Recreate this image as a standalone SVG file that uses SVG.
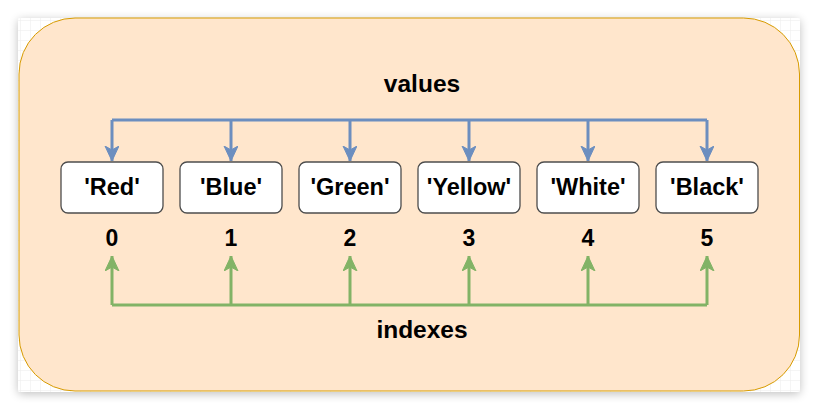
<svg xmlns="http://www.w3.org/2000/svg" width="818" height="410" viewBox="0 0 818 410">
  <defs>
    <pattern id="grid" width="10" height="10" patternUnits="userSpaceOnUse" x="0" y="0">
      <path d="M10 0 L0 0 0 10" fill="none" stroke="#ececec" stroke-width="1"/>
    </pattern>
    <filter id="shadow" x="-5%" y="-5%" width="110%" height="115%">
      <feGaussianBlur in="SourceAlpha" stdDeviation="5"/>
      <feOffset dx="0" dy="2" result="b"/>
      <feComponentTransfer><feFuncA type="linear" slope="0.25"/></feComponentTransfer>
      <feMerge><feMergeNode/><feMergeNode in="SourceGraphic"/></feMerge>
    </filter>
    <marker id="arrBlue" markerUnits="userSpaceOnUse" markerWidth="16" markerHeight="16" viewBox="0 0 16 16" refX="15" refY="7" orient="auto">
      <path d="M0 0 L15 7 L0 14 L4 7 Z" fill="#6c8ebf" stroke="#6c8ebf" stroke-width="1"/>
    </marker>
    <marker id="arrGreen" markerUnits="userSpaceOnUse" markerWidth="16" markerHeight="16" viewBox="0 0 16 16" refX="15" refY="7" orient="auto">
      <path d="M0 0 L15 7 L0 14 L4 7 Z" fill="#82b366" stroke="#82b366" stroke-width="1"/>
    </marker>
  </defs>
  <style>
    .box { fill: #ffffff; stroke: #4d4d4d; stroke-width: 1.3; }
    .t { font-family: "Liberation Sans", Arial, Helvetica, sans-serif; font-weight: bold; fill: #000; text-anchor: middle; }
    .bt { font-size: 23.5px; }
    .num { font-size: 23px; }
    .lbl { font-size: 24.5px; }
    .blue { fill: none; stroke: #6c8ebf; stroke-width: 3; }
    .green { fill: none; stroke: #82b366; stroke-width: 3; }
  </style>
  <rect width="818" height="410" fill="#ffffff"/>
  <g id="page">
    <rect x="18" y="18" width="782" height="374" rx="3" fill="#ffffff" filter="url(#shadow)"/>
    <rect x="18" y="18" width="782" height="374" rx="3" fill="url(#grid)"/>
  </g>
  <g id="container">
    <rect x="19" y="18" width="780.5" height="373" rx="56" fill="#ffe6cc" stroke="#d79b00" stroke-width="1"/>
  </g>
  <g id="connectors">
    <path class="blue" d="M112 120 H707"/>
    <path class="blue" d="M112 120 V161" marker-end="url(#arrBlue)"/>
    <path class="blue" d="M231 120 V161" marker-end="url(#arrBlue)"/>
    <path class="blue" d="M350 120 V161" marker-end="url(#arrBlue)"/>
    <path class="blue" d="M469 120 V161" marker-end="url(#arrBlue)"/>
    <path class="blue" d="M588 120 V161" marker-end="url(#arrBlue)"/>
    <path class="blue" d="M707 120 V161" marker-end="url(#arrBlue)"/>
    <path class="green" d="M112 305 H707"/>
    <path class="green" d="M112 305 V256" marker-end="url(#arrGreen)"/>
    <path class="green" d="M231 305 V256" marker-end="url(#arrGreen)"/>
    <path class="green" d="M350 305 V256" marker-end="url(#arrGreen)"/>
    <path class="green" d="M469 305 V256" marker-end="url(#arrGreen)"/>
    <path class="green" d="M588 305 V256" marker-end="url(#arrGreen)"/>
    <path class="green" d="M707 305 V256" marker-end="url(#arrGreen)"/>
  </g>
  <g id="label-values"><text class="t lbl" x="422" y="92">values</text></g>
  <g id="label-indexes"><text class="t lbl" x="422" y="338">indexes</text></g>
  <g id="node-red"><rect class="box" x="61" y="162" width="102" height="51" rx="7"/><text class="t bt" x="112" y="195">'Red'</text></g>
  <g id="node-blue"><rect class="box" x="180" y="162" width="102" height="51" rx="7"/><text class="t bt" x="231" y="195">'Blue'</text></g>
  <g id="node-green"><rect class="box" x="299" y="162" width="102" height="51" rx="7"/><text class="t bt" x="350" y="195">'Green'</text></g>
  <g id="node-yellow"><rect class="box" x="418" y="162" width="102" height="51" rx="7"/><text class="t bt" x="469" y="195">'Yellow'</text></g>
  <g id="node-white"><rect class="box" x="537" y="162" width="102" height="51" rx="7"/><text class="t bt" x="588" y="195">'White'</text></g>
  <g id="node-black"><rect class="box" x="656" y="162" width="102" height="51" rx="7"/><text class="t bt" x="707" y="195">'Black'</text></g>
  <g id="indices">
    <text class="t num" x="112" y="246">0</text>
    <text class="t num" x="231" y="246">1</text>
    <text class="t num" x="350" y="246">2</text>
    <text class="t num" x="469" y="246">3</text>
    <text class="t num" x="588" y="246">4</text>
    <text class="t num" x="707" y="246">5</text>
  </g>
</svg>
